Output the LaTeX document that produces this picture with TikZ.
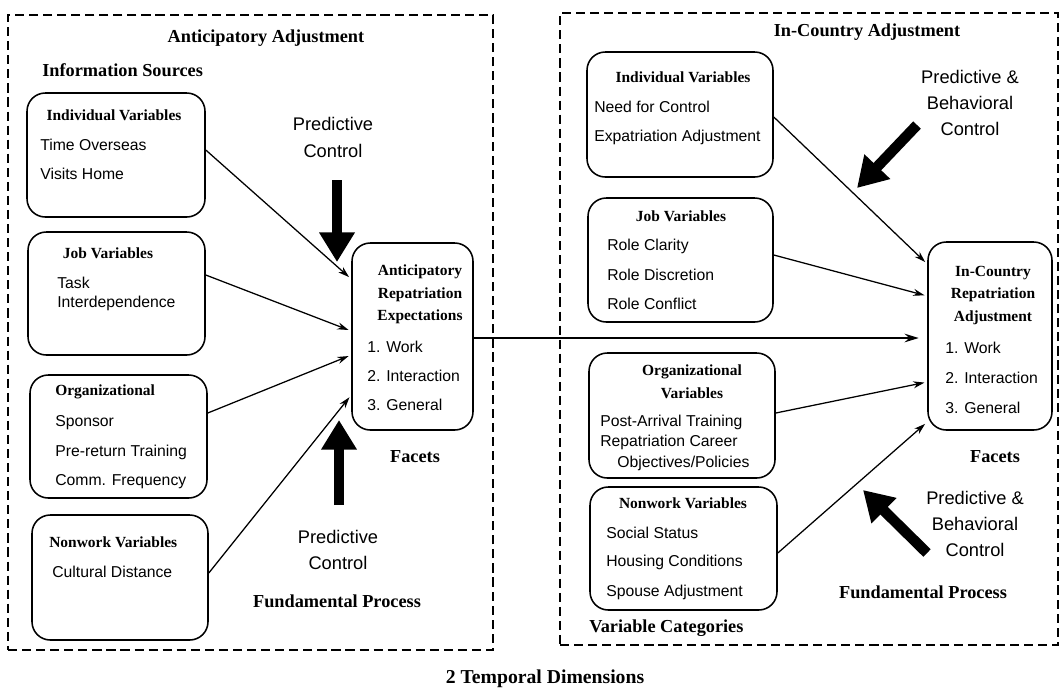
\documentclass[tikz,border=0pt]{standalone}
\usepackage{fontspec}
\setmainfont{Liberation Serif}
\setsansfont{Liberation Sans}
\usetikzlibrary{arrows.meta,positioning,calc}

\def\px{0.025cm}

\begin{document}
\begin{tikzpicture}[x=0.025cm,y=-0.025cm,
  frame/.style={draw,dashed,dash pattern=on 6.5pt off 3.5pt,line width=1pt,inner sep=0pt},
  varbox/.style={draw,rounded corners=13pt,line width=1.1pt,inner sep=0pt},
  head/.style={font=\bfseries\fontsize{11}{16}\selectfont,inner sep=0pt,align=center},
  item/.style={font=\sffamily\fontsize{11.2}{13}\selectfont,inner sep=0pt,anchor=west},
  title/.style={font=\bfseries\fontsize{13}{15}\selectfont,inner sep=0pt},
  ctrl/.style={font=\sffamily\fontsize{13}{19}\selectfont,inner sep=0pt,align=center},
  link/.style={-{Stealth[length=8pt,width=5pt]},line width=0.9pt,shorten >=2pt},
  bigarrow/.style={-{Triangle[length=21pt,width=24pt]},line width=7.5pt}]
\useasboundingbox (0,0) rectangle (1062,693);
% Anticipatory and In-Country frames
\node[frame,minimum width=485*\px,minimum height=635*\px] (antframe) at (250.5,332.5) {};
\node[frame,minimum width=498*\px,minimum height=632*\px] (incframe) at (809,329) {};
\node[title] (antt) at (266,38) {Anticipatory Adjustment};
\node[title,anchor=west] (infos) at (42,70) {Information Sources};
\node[title] (inct) at (867,32) {In-Country Adjustment};

% Information sources (left)
\node[varbox,minimum width=178*\px,minimum height=124*\px] (liv) at (116,155) {};
\node[head] (livh) at (114,115) {Individual Variables};
\node[item] (liv1) at (40,145) {Time Overseas};
\node[item] (liv2) at (40,174) {Visits Home};

\node[varbox,minimum width=177*\px,minimum height=123*\px] (ljv) at (116.5,293.5) {};
\node[head] (ljvh) at (108,253) {Job Variables};
\node[item] (ljv1) at (57,283) {Task};
\node[item] (ljv2) at (57,303) {Interdependence};

\node[varbox,minimum width=177*\px,minimum height=123*\px] (lorg) at (118.5,436.5) {};
\node[head,anchor=west] (lorgh) at (55,392) {Organizational};
\node[item] (lorg1) at (55,423) {Sponsor};
\node[item] (lorg2) at (55,452) {Pre-return Training};
\node[item] (lorg3) at (55,482) {Comm. Frequency};

\node[varbox,minimum width=176*\px,minimum height=125*\px] (lnw) at (120,577.5) {};
\node[head,anchor=west] (lnwh) at (49,542) {Nonwork Variables};
\node[item] (lnw1) at (52,572) {Cultural Distance};

% Anticipatory expectations
\node[varbox,minimum width=121*\px,minimum height=187*\px] (ant) at (412.5,336.5) {};
\node[head] (anth) at (420,294.5) {Anticipatory\\Repatriation\\Expectations};
\node[item] (ant1) at (367,347) {1. Work};
\node[item] (ant2) at (367,376) {2. Interaction};
\node[item] (ant3) at (367,405) {3. General};
\node[title] (antf) at (415,457) {Facets};

\node[ctrl] (pctop) at (333,137.5) {Predictive\\Control};
\node[ctrl] (pcbot) at (338,550) {Predictive\\Control};
\node[title] (antfp) at (337,601) {Fundamental Process};
\coordinate (pc1s) at (337,180);
\coordinate (pc1e) at (337,262);
\coordinate (pc2s) at (339,505);
\coordinate (pc2e) at (339,420);
\draw[bigarrow] (pc1s) -- (pc1e);
\draw[bigarrow] (pc2s) -- (pc2e);

\draw[link] (liv.east |- 0,150) -- (ant.west |- 0,279);
\draw[link] (ljv.east |- 0,275) -- (ant.west |- 0,331);
\draw[link] (lorg.east |- 0,413) -- (ant.west |- 0,355);
\draw[link] (lnw.east |- 0,573) -- (ant.west |- 0,395);

% Variable categories (right)
\node[varbox,minimum width=186*\px,minimum height=125*\px] (riv) at (680,114.5) {};
\node[head] (rivh) at (683,77) {Individual Variables};
\node[item] (riv1) at (594,107) {Need for Control};
\node[item] (riv2) at (594,137) {Expatriation Adjustment};

\node[varbox,minimum width=185*\px,minimum height=124*\px] (rjv) at (680.5,260) {};
\node[head] (rjvh) at (681,216) {Job Variables};
\node[item] (rjv1) at (607,246) {Role Clarity};
\node[item] (rjv2) at (607,275) {Role Discretion};
\node[item] (rjv3) at (607,304) {Role Conflict};

\node[varbox,minimum width=186*\px,minimum height=125*\px] (rorg) at (682,415.5) {};
\node[head] (rorgh) at (692,381.5) {Organizational\\Variables};
\node[item] (rorg1) at (600,422) {Post-Arrival Training};
\node[item] (rorg2) at (600,442) {Repatriation Career};
\node[item] (rorg3) at (617,463) {Objectives/Policies};

\node[varbox,minimum width=187*\px,minimum height=123*\px] (rnw) at (683.5,548.5) {};
\node[head] (rnwh) at (683,503) {Nonwork Variables};
\node[item] (rnw1) at (606,533) {Social Status};
\node[item] (rnw2) at (606,562) {Housing Conditions};
\node[item] (rnw3) at (606,592) {Spouse Adjustment};
\node[title,anchor=west] (varcat) at (589,628) {Variable Categories};

% In-country adjustment
\node[varbox,minimum width=124*\px,minimum height=188*\px] (inc) at (990,336) {};
\node[head] (inch) at (993,295.5) {In-Country\\Repatriation\\Adjustment};
\node[item] (inc1) at (945,348) {1. Work};
\node[item] (inc2) at (945,378) {2. Interaction};
\node[item] (inc3) at (945,408) {3. General};
\node[title] (incf) at (995,457) {Facets};

\node[ctrl,font=\sffamily\fontsize{13}{18.5}\selectfont] (pbtop) at (970,102.5) {Predictive \&\\Behavioral\\Control};
\node[ctrl,font=\sffamily\fontsize{13}{18.5}\selectfont] (pbbot) at (975,523.5) {Predictive \&\\Behavioral\\Control};
\node[title] (incfp) at (923,592) {Fundamental Process};
\coordinate (pb1s) at (917,125);
\coordinate (pb1e) at (857,188);
\coordinate (pb2s) at (927,553);
\coordinate (pb2e) at (863,490);
\draw[bigarrow] (pb1s) -- (pb1e);
\draw[bigarrow] (pb2s) -- (pb2e);

\draw[link] (riv.east |- 0,117) -- (inc.west |- 0,264);
\draw[link] (rjv.east |- 0,255) -- (inc.west |- 0,296);
\draw[link] (rorg.east |- 0,413) -- (inc.west |- 0,382);
\draw[link] (rnw.east |- 0,553) -- (inc.west |- 0,422);

% time link between the two phases
\draw[-{Stealth[length=10pt,width=6pt]},line width=1.7pt,shorten >=6pt] (ant.east |- 0,338) -- (inc.west |- 0,338);

\node[title,font=\bfseries\fontsize{14}{16}\selectfont] (temporal) at (545,679) {2 Temporal Dimensions};
\end{tikzpicture}
\end{document}
